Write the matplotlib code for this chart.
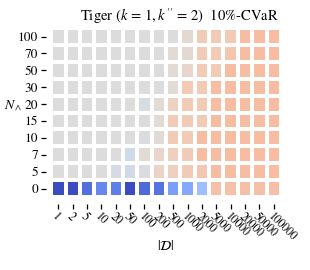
import numpy as np
import matplotlib
matplotlib.use("Agg")
import matplotlib.pyplot as plt

plt.rcParams['font.family'] = 'STIXGeneral'
plt.rcParams['mathtext.fontset'] = 'stix'

x_labels = ["1", "2", "5", "10", "20", "50", "100", "200", "500", "1000", "2000",
            "5000", "10000", "20000", "50000", "100000"]
y_labels = ["100", "70", "50", "30", "20", "15", "10", "7", "5", "0"]

# normalized scores (0 = deep blue, 0.5 = neutral grey, 1 = deep red)
row_100 = [0.5, 0.5, 0.5, 0.5, 0.5, 0.5, 0.5, 0.5, 0.5, 0.53, 0.6, 0.6, 0.6, 0.65, 0.65, 0.65]
row_70 = [0.5, 0.5, 0.5, 0.5, 0.5, 0.5, 0.5, 0.5, 0.52, 0.53, 0.6, 0.6, 0.62, 0.65, 0.65, 0.65]
row_50 = [0.5, 0.5, 0.5, 0.5, 0.5, 0.5, 0.5, 0.5, 0.52, 0.55, 0.6, 0.6, 0.65, 0.65, 0.65, 0.65]
row_30 = [0.5, 0.5, 0.5, 0.5, 0.5, 0.5, 0.5, 0.5, 0.52, 0.6, 0.6, 0.65, 0.65, 0.65, 0.65, 0.65]
row_20 = [0.5, 0.5, 0.5, 0.5, 0.5, 0.5, 0.48, 0.52, 0.57, 0.6, 0.6, 0.65, 0.65, 0.65, 0.65, 0.65]
row_15 = [0.5, 0.5, 0.5, 0.5, 0.5, 0.5, 0.5, 0.52, 0.6, 0.6, 0.6, 0.65, 0.65, 0.65, 0.65, 0.65]
row_10 = [0.5, 0.5, 0.5, 0.5, 0.5, 0.5, 0.49, 0.52, 0.6, 0.6, 0.65, 0.65, 0.65, 0.65, 0.65, 0.65]
row_7 = [0.5, 0.5, 0.5, 0.5, 0.5, 0.45, 0.52, 0.55, 0.58, 0.6, 0.65, 0.65, 0.65, 0.65, 0.65, 0.65]
row_5 = [0.5, 0.5, 0.5, 0.5, 0.47, 0.45, 0.49, 0.56, 0.58, 0.6, 0.62, 0.65, 0.65, 0.65, 0.65, 0.65]
row_0 = [0.0, 0.0, 0.08, 0.14, 0.12, 0.0, 0.07, 0.09, 0.2, 0.23, 0.3, 0.64, 0.64, 0.64, 0.64, 0.64]

data = np.array([row_100, row_70, row_50, row_30, row_20, row_15, row_10, row_7, row_5, row_0])

fig = plt.figure(figsize=(3.1, 2.7), dpi=100)
ax = fig.add_axes([0.165, 0.27, 0.741, 0.626])
ax.pcolormesh(np.arange(len(x_labels) + 1), np.arange(len(y_labels) + 1), data,
              cmap='coolwarm', vmin=0, vmax=1, edgecolors='white', linewidth=1.5)
ax.set_xlim(0, len(x_labels))
ax.set_ylim(len(y_labels), 0)
for s in ax.spines.values():
    s.set_visible(False)
ax.spines['left'].set_position(('outward', 4))
ax.spines['bottom'].set_position(('outward', 5))
ax.set_xticks(np.arange(len(x_labels)) + 0.5)
ax.set_xticklabels(x_labels, rotation=-45, ha='left', rotation_mode='anchor', fontsize=8.5)
ax.set_yticks(np.arange(len(y_labels)) + 0.5)
ax.set_yticklabels(y_labels, fontsize=9.5)
ax.tick_params(axis='both', length=3.5, width=0.9, pad=2)
ax.tick_params(axis='x', pad=1.5)
ax.set_xlabel(r"$|\mathcal{D}|$", fontsize=10)
ax.xaxis.set_label_coords(0.5, -0.25)
ax.set_ylabel(r"$N_\wedge$", fontsize=10, rotation=0, labelpad=3)
ax.set_title(r"Tiger ($k\,=\,1, k''\,=\,2$)  10%-CVaR", fontsize=10.5, pad=5, x=0.56)
fig.savefig("out.png", dpi=100)
